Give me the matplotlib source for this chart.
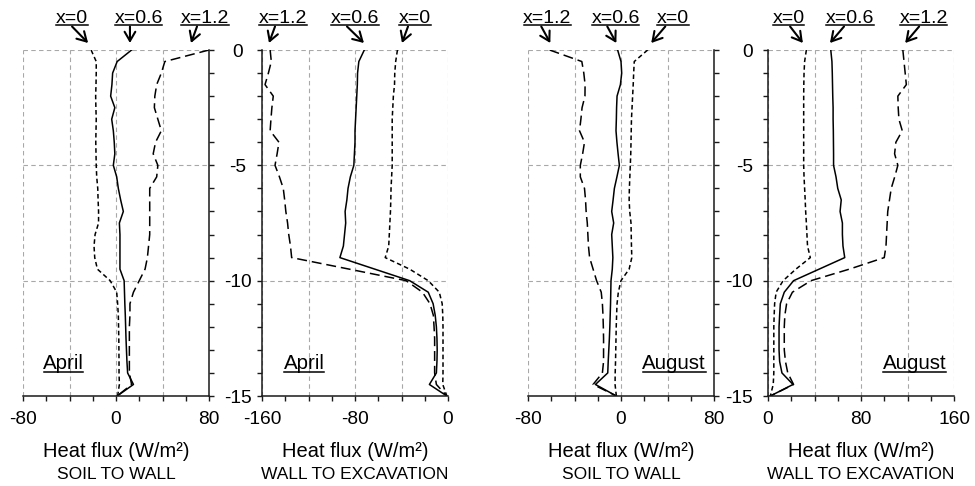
import numpy as np
import matplotlib
matplotlib.use("Agg")
import matplotlib.pyplot as plt
from matplotlib.lines import Line2D

plt.rcParams['font.family'] = ['Liberation Sans', 'DejaVu Sans']

# Depth below ground surface (m)
depth = [0, -0.5, -1, -1.5, -2, -2.5, -3, -3.5, -4, -4.5, -5, -5.5, -6, -6.5, -7,
         -7.5, -8, -8.5, -9, -9.5, -10, -10.5, -11, -11.5, -12, -12.5, -13, -13.5,
         -14, -14.5, -15]

# April, soil to wall (W/m2)
apr_stw_x0 = [-21.4, -17, -17, -17.2, -17.5, -17.3, -17, -17.2, -17.4, -17.2, -17,
              -16.6, -15.7, -15.4, -15, -15, -18, -18.9, -18.3, -16, -5, 0.6, 1.4,
              2, 2.2, 2.4, 2.5, 2.6, 2.6, 2.9, 1.4]
apr_stw_x06 = [13.4, 1, -2.9, -3.5, -4.6, -1, -3.7, -2.3, -1.5, -1, -2.3, 0.6, 2, 4,
               6.3, 2.9, 3.4, 3.4, 3.4, 3.4, 7, 7.3, 7.6, 8, 8.3, 8.6, 9, 9.4, 10,
               15, 1]
apr_stw_x12 = [80, 42, 39, 35, 33.4, 33, 36, 39, 34, 32, 36, 35, 29, 29, 29, 29, 29,
               28, 27, 25, 20, 15, 12, 12, 11.5, 11.5, 11.5, 11.5, 11.5, 13.4, 1]

# April, wall to excavation (W/m2)
apr_wte_x0 = [-43.5, -45, -45.8, -46, -47, -47.5, -48, -48, -48, -48, -48, -48.5,
              -49, -49.2, -49.5, -50, -50.5, -51, -54, -33, -17, -7.5, -5, -4.5,
              -4.3, -4.3, -4.3, -4.3, -4.3, -4.5, -1]
apr_wte_x06 = [-72, -76.7, -77.8, -78, -78.5, -79, -79.5, -80, -80, -80.5, -81, -84,
               -86, -87, -88.5, -88, -89, -90, -93, -63, -33, -17, -12.8, -11, -10,
               -9.5, -9.3, -9.5, -10, -16, -1]
apr_wte_x12 = [-153, -152, -154.5, -157.4, -150.3, -151.5, -152.3, -153, -145.4,
               -147, -148.8, -145, -141.7, -140.5, -139.5, -138, -137, -135.5,
               -134.5, -85, -36, -22, -15.5, -12.6, -12, -11.5, -11.5, -11.5, -11.5,
               -10, -1]

# August, soil to wall (W/m2)
aug_stw_x0 = [22.9, 11.4, 10.9, 10.5, 10, 9.5, 9, 8.8, 8.6, 8.4, 8, 7.6, 7.2, 7,
              7.5, 8.6, 8.8, 9, 9.3, 7, 0, -2.3, -3.4, -3.8, -4.1, -4.3, -4.5, -4.7,
              -5, -5.1, -4]
aug_stw_x06 = [-2.9, 0, 0.6, -0.5, -3.4, -3.8, -4, -4.3, -3.5, -2.5, -1.4, -3.5,
               -5.7, -6.8, -8, -6.3, -8, -7.5, -7, -7.5, -8.6, -8.8, -9, -9.3, -9.6,
               -10, -10.5, -11, -11.4, -22, -4]
aug_stw_x12 = [-61.4, -33.7, -32, -30.9, -31, -33.5, -34.5, -35.7, -31.4, -33, -35,
               -35, -31.4, -30.5, -30, -29, -28.5, -28, -27, -24, -21, -17, -16,
               -15.5, -15.2, -15, -15, -15, -16, -24, -4]

# August, wall to excavation (W/m2)
aug_wte_x0 = [33, 31.5, 31, 30.8, 30.7, 30.7, 30.7, 30.7, 30.7, 30.7, 30.7, 31, 31.5,
              32, 32.4, 33, 33.5, 34, 36.4, 24, 13, 7, 5.7, 5.3, 5, 5, 5, 5, 5, 4.5, 2]
aug_wte_x06 = [54, 55, 55.3, 55.5, 55.7, 56, 56, 56.2, 56.3, 56.4, 56.4, 58.5, 60, 63,
               62, 64, 64, 64.5, 66, 44, 22, 14, 10.6, 10, 9.5, 9.5, 9.5, 10, 12, 21.5, 2]
aug_wte_x12 = [116, 117, 118, 119, 111.7, 112, 112.6, 115.5, 110, 108.9, 111.7, 109,
               106, 104.5, 103, 102.5, 102, 101.5, 100, 70, 37, 21, 16, 14.5, 14, 14,
               14, 15, 17, 22, 2]

section_names = ["x=0", "x=0.6", "x=1.2"]
months = ["April", "April", "August", "August"]
directions = ["SOIL TO WALL", "WALL TO EXCAVATION", "SOIL TO WALL", "WALL TO EXCAVATION"]
xlimits = [(-80, 80), (-160, 0), (-80, 80), (0, 160)]
xlabel_values = [[-80, 0, 80], [-160, -80, 0], [-80, 0, 80], [0, 80, 160]]
depth_ticks = [0, -5, -10, -15]

panels = [
    (apr_stw_x0, apr_stw_x06, apr_stw_x12),
    (apr_wte_x0, apr_wte_x06, apr_wte_x12),
    (aug_stw_x0, aug_stw_x06, aug_stw_x12),
    (aug_wte_x0, aug_wte_x06, aug_wte_x12),
]

# ---- layout -------------------------------------------------------------
W, H = 975, 486
fig = plt.figure(figsize=(W / 100, H / 100), dpi=100)
lefts = [23, 262, 528, 768]
ax_w, ax_bottom, ax_h = 186, 90, 346

# label placement for the section names: (label x, arrow start x, arrow tip x)
name_layout = [
    [(-37.8, -37.8, -24), (19.5, 12, 12), (76.6, 69.7, 64.5)],
    [(-28.4, -34.4, -39.6), (-80, -86.9, -72.3), (-142, -148.8, -154)],
    [(44.7, 38.1, 26), (-4.5, -11.8, -4), (-63.4, -68.6, -60.8)],
    [(18, 19, 30), (70.5, 65.4, 53.3), (134, 130, 118)],
]
month_x = [0.218, 0.226, 0.786, 0.789]
spine_side = ["right", "left", "right", "left"]

styles = [dict(ls=(0, (3.0, 2.0))), dict(ls='-'), dict(ls=(0, (6.5, 3.2)))]
spine_col = '#1a1a1a'
grid_col = '#a8a8a8'

underlined = []
axes = []
for i in range(4):
    ax = fig.add_axes([lefts[i] / W, ax_bottom / H, ax_w / W, ax_h / H])
    axes.append(ax)
    lo, hi = xlimits[i]
    ax.set_xlim(lo, hi)
    ax.set_ylim(-15, 0)

    for vals, st in zip(panels[i], styles):
        ax.plot(vals, depth, color='black', lw=1.1, zorder=3, **st)

    # ticks
    major_x = np.arange(lo, hi + 1, 40)
    ax.set_xticks(major_x, [str(int(v)) if v in xlabel_values[i] else '' for v in major_x])
    ax.set_xticks(np.arange(lo, hi + 1, 20), minor=True)
    ax.set_yticks(depth_ticks, [str(v) for v in depth_ticks])
    ax.set_yticks(np.arange(-15, 1, 1), minor=True)
    ax.tick_params(axis='both', which='both', direction='out', length=3.8,
                   width=1.0, color=spine_col, labelsize=13.8)
    ax.tick_params(axis='x', which='both', pad=7.2)

    ax.grid(True, which='major', color=grid_col, lw=0.8, ls=(0, (4, 3)), zorder=1)

    for s in ['top', 'left', 'right', 'bottom']:
        ax.spines[s].set_visible(False)
    ax.spines['bottom'].set_visible(True)
    ax.spines[spine_side[i]].set_visible(True)
    for s in ax.spines.values():
        s.set_color(spine_col)
        s.set_linewidth(1.1)
        s.set_zorder(4)

    if spine_side[i] == 'right':
        ax.yaxis.tick_right()
        ax.tick_params(axis='y', which='both', labelright=False)
    else:
        ax.yaxis.tick_left()
        if i == 1:
            ax.tick_params(axis='y', which='major', pad=13.7)
            for lbl in ax.get_yticklabels():
                lbl.set_ha('center')
        else:
            ax.tick_params(axis='y', which='major', pad=7.2)

    # axis captions
    ax.text(0.5, -0.1754, "Heat flux (W/m\u00b2)", transform=ax.transAxes,
            ha='center', va='baseline', fontsize=14.5)
    ax.text(0.5, -0.240, directions[i], transform=ax.transAxes,
            ha='center', va='baseline', fontsize=12.5)

    # month tag
    t = ax.text(month_x[i], 0.077, months[i], transform=ax.transAxes,
                ha='center', va='baseline', fontsize=14.8, zorder=5)
    underlined.append(t)

    # section names with arrows
    for k in range(3):
        lx, sx, tx = name_layout[i][k]
        t = ax.text(lx, (H - 23) / H, section_names[k],
                    transform=matplotlib.transforms.blended_transform_factory(
                        ax.transData, fig.transFigure),
                    ha='center', va='baseline', fontsize=14, clip_on=False)
        underlined.append(t)
        ax.annotate('', xy=(tx, (H - 43) / H), xycoords=('data', 'figure fraction'),
                    xytext=(sx, (H - 26.5) / H), textcoords=('data', 'figure fraction'),
                    arrowprops=dict(arrowstyle='->,head_length=0.6,head_width=0.35',
                                    lw=1.5, color='black', shrinkA=0, shrinkB=0,
                                    mutation_scale=11),
                    annotation_clip=False)

# underline the tags
fig.canvas.draw()
renderer = fig.canvas.get_renderer()
for t in underlined:
    bb = t.get_window_extent(renderer)
    base_y = t.get_transform().transform(t.get_position())[1]
    y = (base_y - 2.3) / H
    fig.add_artist(Line2D([(bb.x0 + 0.5) / W, (bb.x1 - 0.5) / W], [y, y],
                          transform=fig.transFigure, color='black', lw=1.1))

fig.savefig("out.png", dpi=100, facecolor='white')
